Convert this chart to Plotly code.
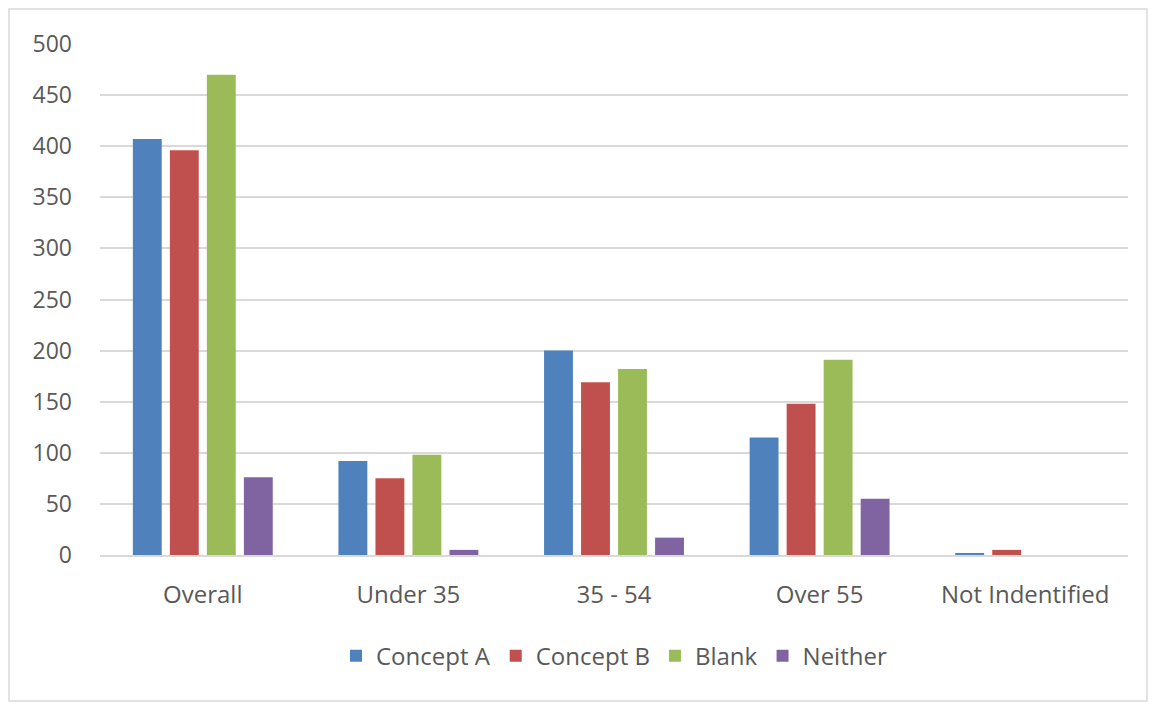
import plotly.graph_objects as go

categories = ["Overall", "Under 35", "35 - 54", "Over 55", "Not Indentified"]
concept_a = [407, 92, 200, 115, 2]
concept_b = [396, 75, 169, 148, 5]
blank = [470, 98, 182, 191, 0]
neither = [76, 5, 17, 55, 0]
series = [("Concept A", concept_a, "#4F81BD"),
          ("Concept B", concept_b, "#C0504D"),
          ("Blank", blank, "#9BBB59"),
          ("Neither", neither, "#8064A2")]
y_ticks = [0, 50, 100, 150, 200, 250, 300, 350, 400, 450, 500]

# page body has an 8px margin; figure spans screen 8..1156 x 8..704
W, H = 1148, 696
L, R, T, B = 92, 28, 36, 149

fig = go.Figure()
for name, vals, color in series:
    fig.add_trace(go.Bar(name=name, x=categories, y=vals, marker_color=color,
                         marker_line_width=0))

pw = W - L - R
ph = H - T - B
fig.add_shape(type="rect", xref="paper", yref="paper",
              x0=(1 - L) / pw, x1=(1139 - L) / pw,
              y0=(H - B - 693) / ph, y1=(H - B - 1) / ph,
              line=dict(color="#D9D9D9", width=1.5), fillcolor="rgba(0,0,0,0)", layer="below")

FONT = "Open Sans, Liberation Sans, sans-serif"
fig.update_layout(
    width=W, height=H,
    margin=dict(l=L, r=R, t=T, b=B),
    paper_bgcolor="white", plot_bgcolor="white",
    barmode="group", bargap=0.28, bargroupgap=0.22,
    font=dict(family=FONT, size=23, color="#595959"),
    legend=dict(orientation="h", x=0.5, xanchor="center", y=-0.198, yanchor="middle",
                font=dict(size=24, color="#595959"), itemwidth=30, traceorder="normal"),
    yaxis=dict(range=[0, 500], tickvals=y_ticks, showgrid=True, gridcolor="#D9D9D9",
               gridwidth=1.5, zeroline=False, showline=False, ticks="", ticklabelstandoff=27,
               tickfont=dict(size=23, color="#595959")),
    xaxis=dict(showline=True, linecolor="#D9D9D9", linewidth=1.5, ticks="",
               ticklabelstandoff=17, tickfont=dict(size=24, color="#595959")),
)

fig.write_html("out.html")
